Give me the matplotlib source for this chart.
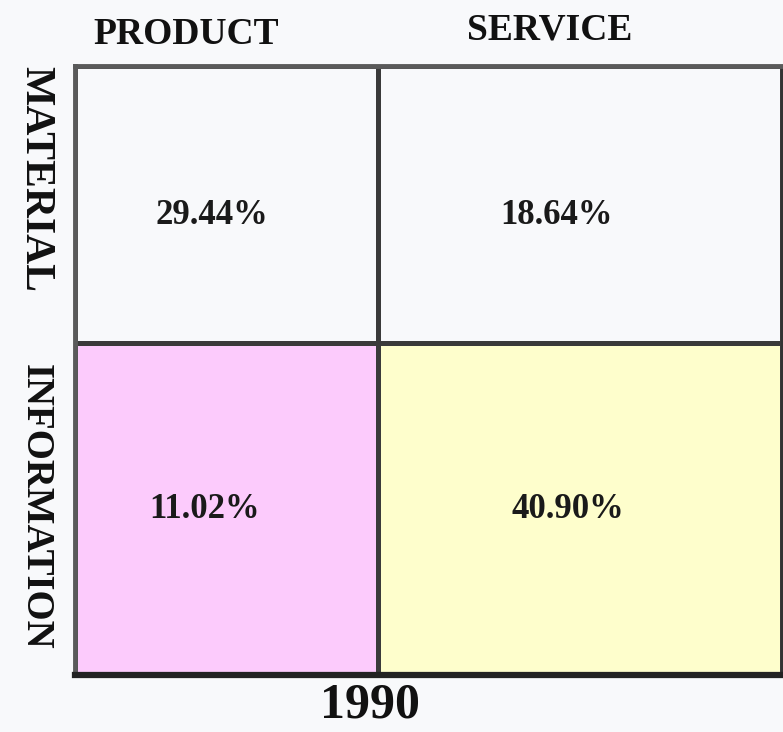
import matplotlib.pyplot as plt
import numpy as np
from matplotlib.colors import ListedColormap

# 2x2 matrix: rows = material / information, columns = product / service
col_labels = ['PRODUCT', 'SERVICE']
row_labels = ['MATERIAL', 'INFORMATION']
shares = [['29.44%', '18.64%'],
          ['11.02%', '40.90%']]
cell_colors = [['#f8f9fb', '#f8f9fb'],
               ['#fccbfc', '#fefecc']]
year = '1990'

# cell edges in pixel-ish units (left column narrower, top row shorter)
x_edges = np.array([0, 303, 707])
y_edges = np.array([0, 332, 609])
# where the label sits inside each cell (fraction of width)
text_xfrac = [[0.452, 0.443], [0.426, 0.47]]

plt.rcParams['font.family'] = ['Liberation Serif', 'DejaVu Serif']

fig = plt.figure(figsize=(7.83, 7.32), dpi=100, facecolor='#f8f9fb')
ax = fig.add_axes([75 / 783, 57 / 732, 707 / 783, 609 / 732])

# colour codes, bottom row first for pcolormesh
flat_colors = [c for row in cell_colors[::-1] for c in row]
codes = np.arange(4).reshape(2, 2)
ax.pcolormesh(x_edges, y_edges, codes, cmap=ListedColormap(flat_colors),
              edgecolors='#3a3a3a', linewidth=2.5)

ax.set_xlim(x_edges[0], x_edges[-1])
ax.set_ylim(y_edges[0], y_edges[-1])
ax.set_xticks([])
ax.set_yticks([])
for side in ['top', 'left']:
    ax.spines[side].set_color('#5a5a5a')
    ax.spines[side].set_linewidth(3.5)
ax.spines['right'].set_color('#333333')
ax.spines['right'].set_linewidth(1.5)
ax.spines['bottom'].set_color('#222222')
ax.spines['bottom'].set_linewidth(4.5)

# percentages
for i in range(2):
    for j in range(2):
        x = x_edges[j] + text_xfrac[i][j] * (x_edges[j + 1] - x_edges[j])
        r = 1 - i
        yfrac = 0.46 if i == 0 else 0.5
        y = y_edges[r] + yfrac * (y_edges[r + 1] - y_edges[r])
        ax.text(x, y, shares[i][j], ha='center', va='center',
                fontsize=25, fontweight='bold', color='#1a1a1a')

# column headers
col_x = [186, 550]
col_y = [35, 30]
for lab, cx, cy in zip(col_labels, col_x, col_y):
    fig.text(cx / 783, 1 - cy / 732, lab, ha='center', va='center',
             fontsize=27, fontweight='bold', color='#111111')

# row headers, rotated to read top-to-bottom
row_y = [179, 507]
row_size = [30, 28]
for lab, ry, fs in zip(row_labels, row_y, row_size):
    fig.text(35 / 783, 1 - ry / 732, lab, ha='center', va='center',
             rotation=-90, fontsize=fs, fontweight='bold', color='#111111')

fig.text(370 / 783, 1 - 706 / 732, year, ha='center', va='center',
         fontsize=36, fontweight='bold', color='#111111')

fig.savefig('out.png', dpi=100, facecolor=fig.get_facecolor())
